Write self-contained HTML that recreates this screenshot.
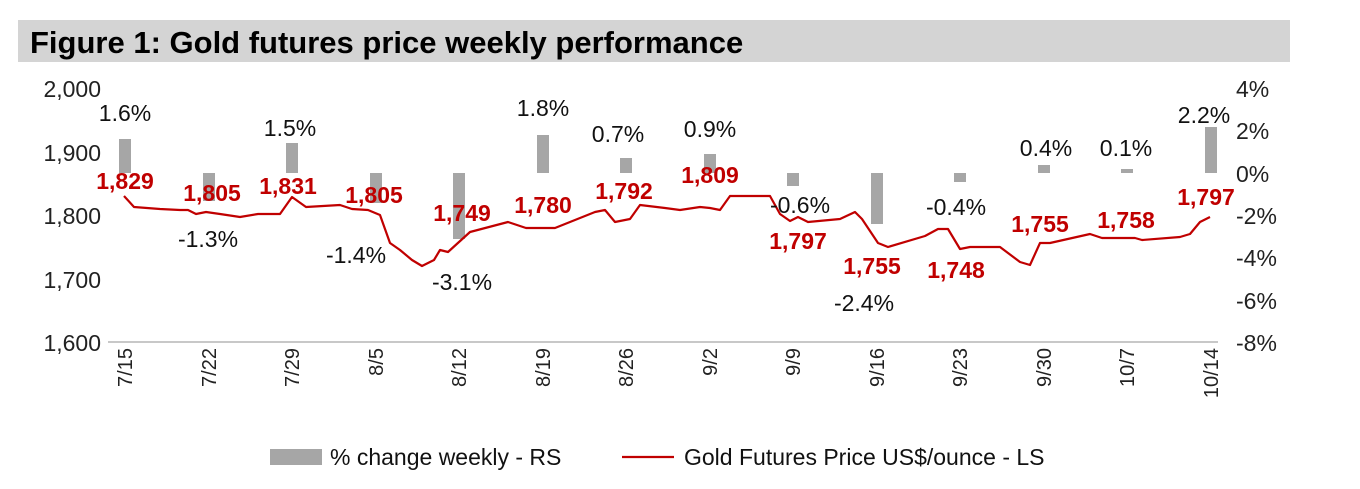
<!DOCTYPE html>
<html><head><meta charset="utf-8"><style>
body{margin:0;background:#fff;width:1360px;height:484px;overflow:hidden;font-family:"Liberation Sans",Arial,sans-serif}
</style></head><body>
<svg width="1360" height="484" xmlns="http://www.w3.org/2000/svg" font-family="Liberation Sans, Arial, sans-serif">
<rect x="18" y="20" width="1272" height="42" fill="#d4d4d4"/>
<text x="30" y="53" font-size="31" font-weight="bold" fill="#000">Figure 1: Gold futures price weekly performance</text>
<g font-size="23" fill="#222" text-anchor="end">
<text x="101" y="97">2,000</text><text x="101" y="161">1,900</text><text x="101" y="224">1,800</text><text x="101" y="288">1,700</text><text x="101" y="351">1,600</text>
</g>
<g font-size="23" fill="#222" text-anchor="start">
<text x="1236" y="97">4%</text><text x="1236" y="139">2%</text><text x="1236" y="182">0%</text><text x="1236" y="224">-2%</text><text x="1236" y="266">-4%</text><text x="1236" y="309">-6%</text><text x="1236" y="351">-8%</text>
</g>
<line x1="108" y1="342" x2="1218" y2="342" stroke="#c8c8c8" stroke-width="2"/>
<g fill="#a6a6a6">
<rect x="119" y="139" width="12" height="34"/>
<rect x="203" y="173" width="12" height="28"/>
<rect x="286" y="143" width="12" height="30"/>
<rect x="370" y="173" width="12" height="30"/>
<rect x="453" y="173" width="12" height="66"/>
<rect x="537" y="135" width="12" height="38"/>
<rect x="620" y="158" width="12" height="15"/>
<rect x="704" y="154" width="12" height="19"/>
<rect x="787" y="173" width="12" height="13"/>
<rect x="871" y="173" width="12" height="51"/>
<rect x="954" y="173" width="12" height="9"/>
<rect x="1038" y="165" width="12" height="8"/>
<rect x="1121" y="169" width="12" height="4"/>
<rect x="1205" y="127" width="12" height="46"/>
</g>
<polyline fill="none" stroke="#c00000" stroke-width="2.2" stroke-linejoin="round" points="124,196 134,207 160,209 180,210 188,210 196,214 206,212 220,214 240,217 258,214 280,214 292,197 306,207 340,205 352,209 368,210 380,215 390,243 400,250 412,260 422,266 434,260 440,250 448,252 470,232 508,222 526,228 555,228 570,222 595,212 605,210 615,222 630,219 640,205 665,208 680,210 700,207 710,208 720,210 730,196 770,196 780,214 790,221 798,217 808,222 840,219 855,212 862,219 878,243 888,247 925,236 938,229 948,229 960,249 970,247 1000,247 1020,262 1030,265 1040,243 1050,243 1090,234 1102,238 1135,238 1142,240 1180,237 1190,234 1200,222 1210,217"/>
<g font-size="23" fill="#c00000" font-weight="bold" text-anchor="middle">
<text x="125" y="189">1,829</text><text x="212" y="201">1,805</text><text x="288" y="194">1,831</text><text x="374" y="203">1,805</text><text x="462" y="221">1,749</text><text x="543" y="213">1,780</text><text x="624" y="199">1,792</text><text x="710" y="183">1,809</text><text x="798" y="249">1,797</text><text x="872" y="274">1,755</text><text x="956" y="278">1,748</text><text x="1040" y="232">1,755</text><text x="1126" y="228">1,758</text><text x="1206" y="205">1,797</text>
</g>
<g font-size="23" fill="#111" text-anchor="middle">
<text x="125" y="121">1.6%</text><text x="208" y="247">-1.3%</text><text x="290" y="136">1.5%</text><text x="356" y="263">-1.4%</text><text x="462" y="290">-3.1%</text><text x="543" y="116">1.8%</text><text x="618" y="142">0.7%</text><text x="710" y="137">0.9%</text><text x="800" y="213">-0.6%</text><text x="864" y="311">-2.4%</text><text x="956" y="215">-0.4%</text><text x="1046" y="156">0.4%</text><text x="1126" y="156">0.1%</text><text x="1204" y="123">2.2%</text>
</g>
<g font-size="20" fill="#222" text-anchor="end">
<text transform="translate(132,348) rotate(-90)">7/15</text>
<text transform="translate(216,348) rotate(-90)">7/22</text>
<text transform="translate(299,348) rotate(-90)">7/29</text>
<text transform="translate(383,348) rotate(-90)">8/5</text>
<text transform="translate(466,348) rotate(-90)">8/12</text>
<text transform="translate(550,348) rotate(-90)">8/19</text>
<text transform="translate(633,348) rotate(-90)">8/26</text>
<text transform="translate(717,348) rotate(-90)">9/2</text>
<text transform="translate(800,348) rotate(-90)">9/9</text>
<text transform="translate(884,348) rotate(-90)">9/16</text>
<text transform="translate(967,348) rotate(-90)">9/23</text>
<text transform="translate(1051,348) rotate(-90)">9/30</text>
<text transform="translate(1134,348) rotate(-90)">10/7</text>
<text transform="translate(1218,348) rotate(-90)">10/14</text>
</g>
<rect x="270" y="449" width="52" height="16" fill="#a6a6a6"/>
<text x="330" y="465" font-size="23" fill="#111">% change weekly - RS</text>
<line x1="622" y1="457" x2="674" y2="457" stroke="#c00000" stroke-width="2.2"/>
<text x="684" y="465" font-size="23" fill="#111">Gold Futures Price US$/ounce - LS</text>
</svg>
</body></html>
